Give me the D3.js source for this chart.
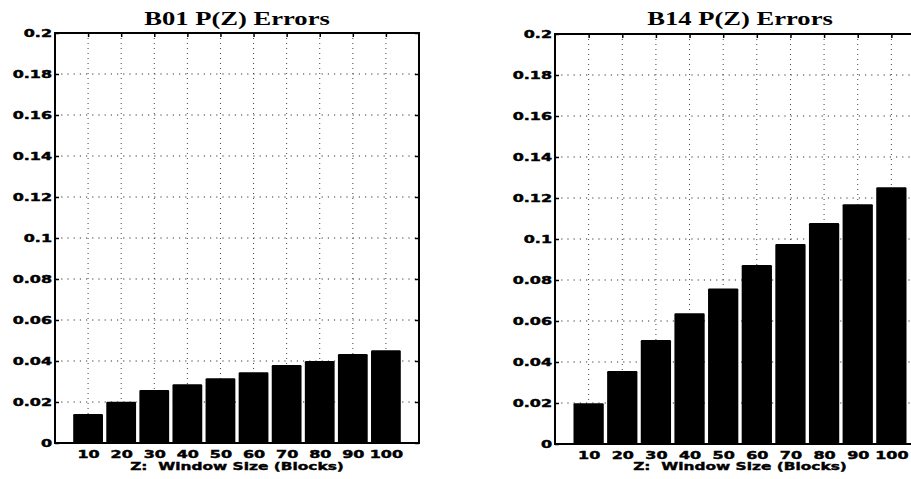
<!DOCTYPE html>
<html>
<head>
<meta charset="utf-8">
<script src="https://cdn.jsdelivr.net/npm/d3@7"></script>
<style>
  body { margin: 0; background: #fff; }
  svg { display: block; }
  .domain { display: none; }
  .tick line { stroke: #000; stroke-width: 1.5; }
  .tick text { font-family: 'DejaVu Sans', sans-serif; font-weight: bold; font-size: 11px; fill: #000; stroke: #000; stroke-width: 0.45; }
</style>
</head>
<body>
<script>
var windowSizes = [10, 20, 30, 40, 50, 60, 70, 80, 90, 100]
var b01Errors = [0.0141, 0.0201, 0.0259, 0.0286, 0.0316, 0.0345, 0.0380, 0.0400, 0.0434, 0.0452]
var b14Errors = [0.0199, 0.0356, 0.0507, 0.0638, 0.0759, 0.0873, 0.0976, 0.1078, 0.1170, 0.1252]
var yTicks = [0, 0.02, 0.04, 0.06, 0.08, 0.1, 0.12, 0.14, 0.16, 0.18, 0.2]
var yTickLabels = ['0', '0.02', '0.04', '0.06', '0.08', '0.1', '0.12', '0.14', '0.16', '0.18', '0.2']
var titles = ['B01 P(Z) Errors', 'B14 P(Z) Errors']
var xLabel = 'Z:  Window Size (Blocks)'

var w = 911
var h = 479

var svg = d3.select('body')
            .append('svg')
            .attr('width', w)
            .attr('height', h)

// one panel per block, MATLAB style box with inward ticks
function drawPanel (values, title, left, right, top, bottom) {
  var x = d3.scaleLinear()
          .domain([0, 110])
          .range([left, right])

  var y = d3.scaleLinear()
          .domain([0, 0.2])
          .range([bottom, top])

  var g = svg.append('g')

  // dotted grid
  g.selectAll('.hgrid')
    .data(yTicks.slice(1, -1))
    .enter()
      .append('line')
      .attr('x1', left)
      .attr('x2', right)
      .attr('y1', function (d) { return y(d) })
      .attr('y2', function (d) { return y(d) })
      .style('stroke', '#333')
      .style('stroke-width', 1)
      .style('stroke-dasharray', '1.2,5')

  g.selectAll('.vgrid')
    .data(windowSizes)
    .enter()
      .append('line')
      .attr('x1', function (d) { return x(d) })
      .attr('x2', function (d) { return x(d) })
      .attr('y1', top)
      .attr('y2', bottom)
      .style('stroke', '#444')
      .style('stroke-width', 1)
      .style('stroke-dasharray', '1,4')

  // bars
  g.selectAll('.bar')
    .data(values)
    .enter()
      .append('rect')
      .classed('bar', true)
      .attr('x', function (d, i) { return x(windowSizes[i] - 4.5) })
      .attr('width', function (d, i) { return x(windowSizes[i] + 4.5) - x(windowSizes[i] - 4.5) })
      .attr('y', function (d) { return y(d) })
      .attr('height', function (d) { return y(0) - y(d) })
      .attr('rx', 1.2)
      .style('fill', '#000')

  // axes
  var yAxis = g.append('g')
    .attr('transform', 'translate(' + left + ',0)')
    .call(d3.axisLeft(y).tickValues(yTicks).tickSize(-4).tickFormat(function (d, i) { return yTickLabels[i] }))

  yAxis.selectAll('text')
    .attr('x', null)
    .attr('dy', '0.36em')
    .attr('transform', 'translate(-3,0) scale(1.45,1)')

  g.append('g')
    .attr('transform', 'translate(' + right + ',0)')
    .call(d3.axisRight(y).tickValues(yTicks).tickSize(-4).tickFormat(''))

  g.append('g')
    .attr('transform', 'translate(0,' + top + ')')
    .call(d3.axisTop(x).tickValues(windowSizes).tickSize(-4).tickFormat(''))

  var xAxis = g.append('g')
    .attr('transform', 'translate(0,' + bottom + ')')
    .call(d3.axisBottom(x).tickValues(windowSizes).tickSize(-4))

  xAxis.selectAll('text')
    .attr('y', null)
    .attr('dy', null)
    .attr('transform', 'translate(0,15) scale(1.45,1)')

  // frame
  g.append('rect')
    .attr('x', left)
    .attr('y', top)
    .attr('width', right - left)
    .attr('height', bottom - top)
    .style('fill', 'none')
    .style('stroke', '#000')
    .style('stroke-width', 2)

  var cx = (left + right) / 2

  g.append('text')
    .attr('transform', 'translate(' + cx + ',25) scale(1.4,1)')
    .attr('text-anchor', 'middle')
    .style('font-family', "'Liberation Serif', serif")
    .style('font-weight', 'bold')
    .style('font-size', '19px')
    .text(title)

  g.append('text')
    .attr('transform', 'translate(' + cx + ',470) scale(1.4,1)')
    .attr('text-anchor', 'middle')
    .style('font-family', "'DejaVu Sans', sans-serif")
    .style('font-weight', 'bold')
    .style('font-size', '11px')
    .style('white-space', 'pre')
    .style('stroke', '#000')
    .style('stroke-width', 0.4)
    .text(xLabel)
}

drawPanel(b01Errors, titles[0], 55, 419, 33, 443)
drawPanel(b14Errors, titles[1], 555, 925, 34, 444)
</script>
</body>
</html>
